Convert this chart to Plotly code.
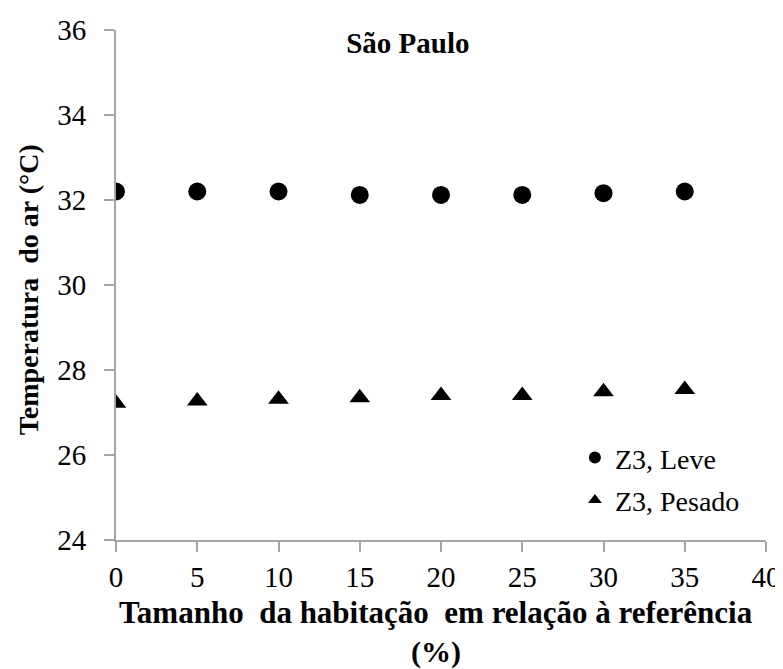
"""Air temperature vs. dwelling size, Sao Paulo."""

import plotly.graph_objects as go

sizes = [0, 5, 10, 15, 20, 25, 30, 35]
temp_leve = [32.2, 32.2, 32.2, 32.12, 32.12, 32.12, 32.16, 32.2]
temp_pesado = [27.22, 27.27, 27.31, 27.35, 27.4, 27.4, 27.49, 27.54]

x_ticks = [0, 5, 10, 15, 20, 25, 30, 35, 40]
y_ticks = [24, 26, 28, 30, 32, 34, 36]

serif = "Times New Roman, Liberation Serif, serif"

fig = go.Figure()

fig.add_trace(
    go.Scatter(
        x=sizes,
        y=temp_leve,
        mode="markers",
        name="Z3, Leve",
        legendgroup="leve",
        marker=dict(symbol="circle", size=18, color="black"),
    )
)
fig.add_trace(
    go.Scatter(
        x=sizes,
        y=temp_pesado,
        mode="markers",
        name="Z3, Pesado",
        legendgroup="pesado",
        marker=dict(symbol="triangle-up", size=18, color="black"),
    )
)

axis_style = dict(
    showline=True,
    linecolor="#a6a6a6",
    linewidth=2,
    ticks="outside",
    ticklen=10,
    tickwidth=2,
    tickcolor="#a6a6a6",
    showgrid=False,
    zeroline=False,
    automargin=False,
    tickfont=dict(family=serif, size=29, color="black"),
)

# the page body adds an 8px offset, so the figure is 8px smaller than the window
fig.update_layout(
    width=775,
    height=661,
    plot_bgcolor="white",
    paper_bgcolor="white",
    margin=dict(l=108, r=17, t=22, b=129),
    font=dict(family=serif, color="black"),
    title=dict(
        text="<b>São Paulo</b>",
        x=0.449,
        xref="paper",
        xanchor="center",
        y=1 - 35 / 661,
        yref="container",
        yanchor="middle",
        font=dict(family=serif, size=29, color="black"),
    ),
    xaxis=dict(range=[0, 40], tickvals=x_ticks, ticklabelstandoff=0, **axis_style),
    yaxis=dict(range=[24, 36], tickvals=y_ticks, ticklabelstandoff=12, **axis_style),
    showlegend=True,
    legend=dict(
        x=0.706,
        y=0.210,
        xanchor="left",
        yanchor="top",
        bgcolor="rgba(0,0,0,0)",
        font=dict(family=serif, size=28, color="black"),
        itemsizing="constant",
        tracegroupgap=3,
    ),
)

# axis titles placed as annotations for exact positioning
fig.add_annotation(
    text="<b>Tamanho  da habitação  em relação à referência</b>",
    xref="paper",
    yref="paper",
    x=0.492,
    y=-0.143,
    xanchor="center",
    yanchor="middle",
    showarrow=False,
    font=dict(family=serif, size=31, color="black"),
)
fig.add_annotation(
    text="<b>(%)</b>",
    xref="paper",
    yref="paper",
    x=0.492,
    y=-0.219,
    xanchor="center",
    yanchor="middle",
    showarrow=False,
    font=dict(family=serif, size=30, color="black"),
)
fig.add_annotation(
    text="<b>Temperatura  do ar (°C)</b>",
    xref="paper",
    yref="paper",
    x=-0.135,
    y=0.49,
    xanchor="center",
    yanchor="middle",
    textangle=-90,
    showarrow=False,
    font=dict(family=serif, size=28, color="black"),
)

fig.write_html("out.html")
